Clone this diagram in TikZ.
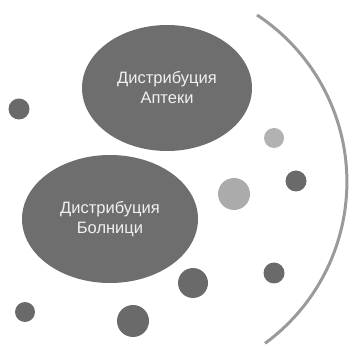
\documentclass[tikz,border=0pt]{standalone}
\usepackage{fontspec}
\setmainfont{Liberation Sans}
\usepackage{xcolor}
\usepackage{tikz}
\usetikzlibrary{shapes.geometric}

\definecolor{blobgray}{HTML}{6E6E6E}
\definecolor{dotdark}{HTML}{6A6A6A}
\definecolor{dotlight}{HTML}{B2B2B2}
\definecolor{dotmid}{HTML}{ABABAB}
\definecolor{rimgray}{HTML}{9A9A9A}
\definecolor{txtlight}{HTML}{F0F0F0}

\begin{document}
\begin{tikzpicture}[x=1pt, y=1pt,
  blob/.style    = {ellipse, fill=blobgray, inner sep=0pt, align=center,
                    text=txtlight, font=\fontsize{16.5}{20}\selectfont},
  dot/.style     = {circle, fill=dotdark, inner sep=0pt},
  lightdot/.style = {circle, fill=dotlight, inner sep=0pt},
  middot/.style  = {circle, fill=dotmid, inner sep=0pt},
  rim/.style     = {draw=rimgray, line width=3pt}
]
  \useasboundingbox (0,0) rectangle (352,347);

  %% the two distributions
  \node[blob, minimum width=170pt, minimum height=126pt] (pharm) at (167,259)
      {Дистрибуция\\Аптеки};
  \node[blob, minimum width=176pt, minimum height=128pt] (hosp) at (110,128)
      {Дистрибуция\\Болници};

  %% scattered dots
  \node[dot, minimum size=21pt]      (d1) at (19,238)  {};
  \node[lightdot, minimum size=20pt] (d2) at (274,209) {};
  \node[dot, minimum size=21pt]      (d3) at (296,166) {};
  \node[middot, minimum size=32pt]   (d4) at (234,153) {};
  \node[dot, minimum size=21pt]      (d5) at (274,74)  {};
  \node[dot, minimum size=30pt]      (d6) at (193,64)  {};
  \node[dot, minimum size=20pt]      (d7) at (25,35)   {};
  \node[dot, minimum size=32pt]      (d8) at (133,26)  {};

  %% outer boundary arc
  \coordinate (rimtop) at (257,332);
  \draw[rim] (rimtop) arc[start angle=56.6, end angle=-53.8, radius=200];
\end{tikzpicture}
\end{document}
